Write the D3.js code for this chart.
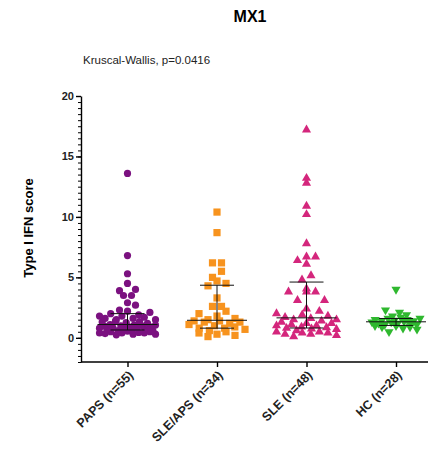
<html>
<head>
<meta charset="utf-8">
<title>MX1</title>
<style>
  body { margin: 0; background: #fff; }
  text { font-family: "Liberation Sans", Arial, sans-serif; }
  .axis path, .axis line { stroke: #000; stroke-width: 1.4; fill: none; }
  .axis text { font-size: 11px; font-weight: bold; fill: #222; }
  .minor path { stroke: none; }
  .minor line { stroke: #000; stroke-width: 1; }
</style>
<script src="https://cdn.jsdelivr.net/npm/d3@7"></script>
</head>
<body>
<script>
// ---- data ----
var groups = ["PAPS (n=55)", "SLE/APS (n=34)", "SLE (n=48)", "HC (n=28)"];
var colors = ["#7b1180", "#f7931e", "#d4267c", "#2fb82f"];
var yTicks = [0, 5, 10, 15, 20];

var paps = [13.6, 6.8, 5.3, 4.5, 4.0, 3.9, 3.5, 3.5, 2.9, 2.7,
  0.25, 0.3, 0.3, 0.35, 0.4, 0.4, 0.4, 0.45, 0.5, 0.5, 0.55, 0.6, 0.6, 0.65,
  0.7, 0.7, 0.75, 0.8, 0.8, 0.85, 0.9, 0.9, 0.95, 1.0, 1.0, 1.05, 1.05, 1.1,
  1.2, 1.25, 1.3, 1.35, 1.4, 1.5, 1.5, 1.6, 1.6, 1.7, 1.8, 1.8, 1.9, 2.0, 2.1, 2.2, 2.3];
var sleaps = [10.4, 8.7, 6.2, 6.2, 5.5, 5.0, 4.7, 4.5, 4.3, 3.3, 2.6, 2.6,
  0.1, 0.2, 0.3, 0.4, 0.5, 0.6, 0.7, 0.8, 0.8, 0.9, 1.0, 1.1, 1.2, 1.3, 1.3,
  1.4, 1.4, 1.5, 1.6, 1.8, 2.0, 2.2];
var sle = [17.2, 13.2, 12.8, 10.9, 10.2, 7.8, 6.7, 6.7, 6.4, 6.1, 5.15, 4.8,
  4.05, 3.8, 3.8, 3.8, 3.1, 3.1, 2.4, 2.2,
  0.1, 0.2, 0.3, 0.3, 0.4, 0.4, 0.5, 0.5, 0.6, 0.7, 0.75, 0.8, 0.85, 0.9,
  1.0, 1.0, 1.1, 1.2, 1.2, 1.3, 1.4, 1.5, 1.5, 1.6, 1.7, 1.8, 1.9, 2.0];
var hc = [4.0, 2.3, 2.1, 1.9, 1.8, 1.7, 1.6, 1.6, 1.5, 1.5, 1.45, 1.4, 1.4,
  1.35, 1.3, 1.3, 1.25, 1.2, 1.2, 1.1, 1.1, 1.0, 1.0, 0.9, 0.9, 0.8, 0.7, 0.5];
var series = [paps, sleaps, sle, hc];

var width = 431, height = 461;
var svg = d3.select("body").append("svg").attr("width", width).attr("height", height);

var y = d3.scaleLinear().domain([-2, 20]).range([362, 96]);
var x = d3.scalePoint().domain(groups).range([127.5, 396]);

// title and test
svg.append("text").attr("x", 250).attr("y", 22).attr("text-anchor", "middle")
  .style("font-size", "16px").style("font-weight", "bold").text("MX1");
svg.append("text").attr("x", 83).attr("y", 64)
  .style("font-size", "11.5px").attr("fill", "#222").text("Kruscal-Wallis, p=0.0416");

// y axis label
svg.append("text").attr("transform", "translate(33,228) rotate(-90)")
  .attr("text-anchor", "middle").style("font-size", "13px").style("font-weight", "bold")
  .text("Type I IFN score");

// y axis (major + minor)
svg.append("g").attr("class", "axis minor").attr("transform", "translate(81,0)")
  .call(d3.axisLeft(y).tickValues(d3.range(-2, 20.01, 0.5)).tickSize(3).tickFormat(""));
svg.append("g").attr("class", "axis").attr("transform", "translate(81,0)")
  .call(d3.axisLeft(y).tickValues(yTicks).tickSize(5).tickSizeOuter(0).tickPadding(2));

// x axis
var gx = svg.append("g").attr("class", "axis").attr("transform", "translate(0,362)")
  .call(d3.axisBottom(x).tickSize(5).tickFormat(""));
gx.select(".domain").remove();
gx.append("line").attr("x1", 81).attr("x2", 428).attr("y1", 0).attr("y2", 0);
gx.selectAll(".tick").append("text")
  .attr("transform", "translate(6,14) rotate(-45)")
  .attr("text-anchor", "end").style("font-size", "12.5px").attr("fill", "#222")
  .text(function(d) { return d; });

// GraphPad-like scatter: bin by y into rows, spread each row around the centre,
// squeezing rows that would get wider than maxHalf
function rows(values, binPx, gap, maxHalf) {
  var pts = values.map(function(v) { return {v: v, y: y(v), x: 0}; })
    .sort(function(a, b) { return a.v - b.v; });
  var bins = d3.group(pts, function(p) { return Math.floor((y(0) + 3 - p.y) / binPx); });
  bins.forEach(function(list) {
    var n = list.length;
    var gg = n > 1 ? Math.min(gap, 2 * maxHalf / (n - 1)) : 0;
    // mix the order inside a row (golden ratio steps) so it doesn't look sorted
    var order = list.map(function(p, i) { return {p: p, k: (i * 0.618 + 0.3) % 1}; })
      .sort(function(a, b) { return a.k - b.k; });
    order.forEach(function(o, i) { o.p.x = (i - (n - 1) / 2) * gg; });
  });
  return pts;
}

// quartiles the way GraphPad does it, (n+1)p
function q(values, p) {
  var s = values.slice().sort(d3.ascending);
  var pos = (s.length + 1) * p - 1;
  var lo = Math.floor(pos), hi = Math.ceil(pos);
  return s[lo] + (s[hi] - s[lo]) * (pos - lo);
}

var binH = [10, 10, 10, 8];
var gaps = [8, 9, 9, 7];
var halfW = [28, 28, 30, 24];
var shapes = ["circle", "square", "tri", "tridown"];

series.forEach(function(vals, gi) {
  var cx = x(groups[gi]);
  var g = svg.append("g").attr("fill", colors[gi]);
  var pts = rows(vals, binH[gi], gaps[gi], halfW[gi]);
  pts.forEach(function(p) {
    var px = cx + p.x, py = p.y;
    if (shapes[gi] == "circle") {
      g.append("circle").attr("cx", px).attr("cy", py).attr("r", 3.6);
    } else if (shapes[gi] == "square") {
      g.append("rect").attr("x", px - 3.6).attr("y", py - 3.6).attr("width", 7.2).attr("height", 7.2);
    } else {
      var rot = shapes[gi] == "tri" ? 0 : 180;
      g.append("path").attr("d", d3.symbol(d3.symbolTriangle, 36)())
        .attr("transform", "translate(" + px + "," + py + ") rotate(" + rot + ")");
    }
  });

  // median with interquartile range
  var med = q(vals, 0.5), q1 = q(vals, 0.25), q3 = q(vals, 0.75);
  var e = svg.append("g").attr("stroke", "#111").attr("stroke-width", 1);
  e.append("line").attr("x1", cx - 30).attr("x2", cx + 30).attr("y1", y(med)).attr("y2", y(med));
  e.append("line").attr("x1", cx - 17).attr("x2", cx + 17).attr("y1", y(q1)).attr("y2", y(q1));
  e.append("line").attr("x1", cx - 17).attr("x2", cx + 17).attr("y1", y(q3)).attr("y2", y(q3));
  e.append("line").attr("x1", cx).attr("x2", cx).attr("y1", y(q1)).attr("y2", y(q3));
});
</script>
</body>
</html>
